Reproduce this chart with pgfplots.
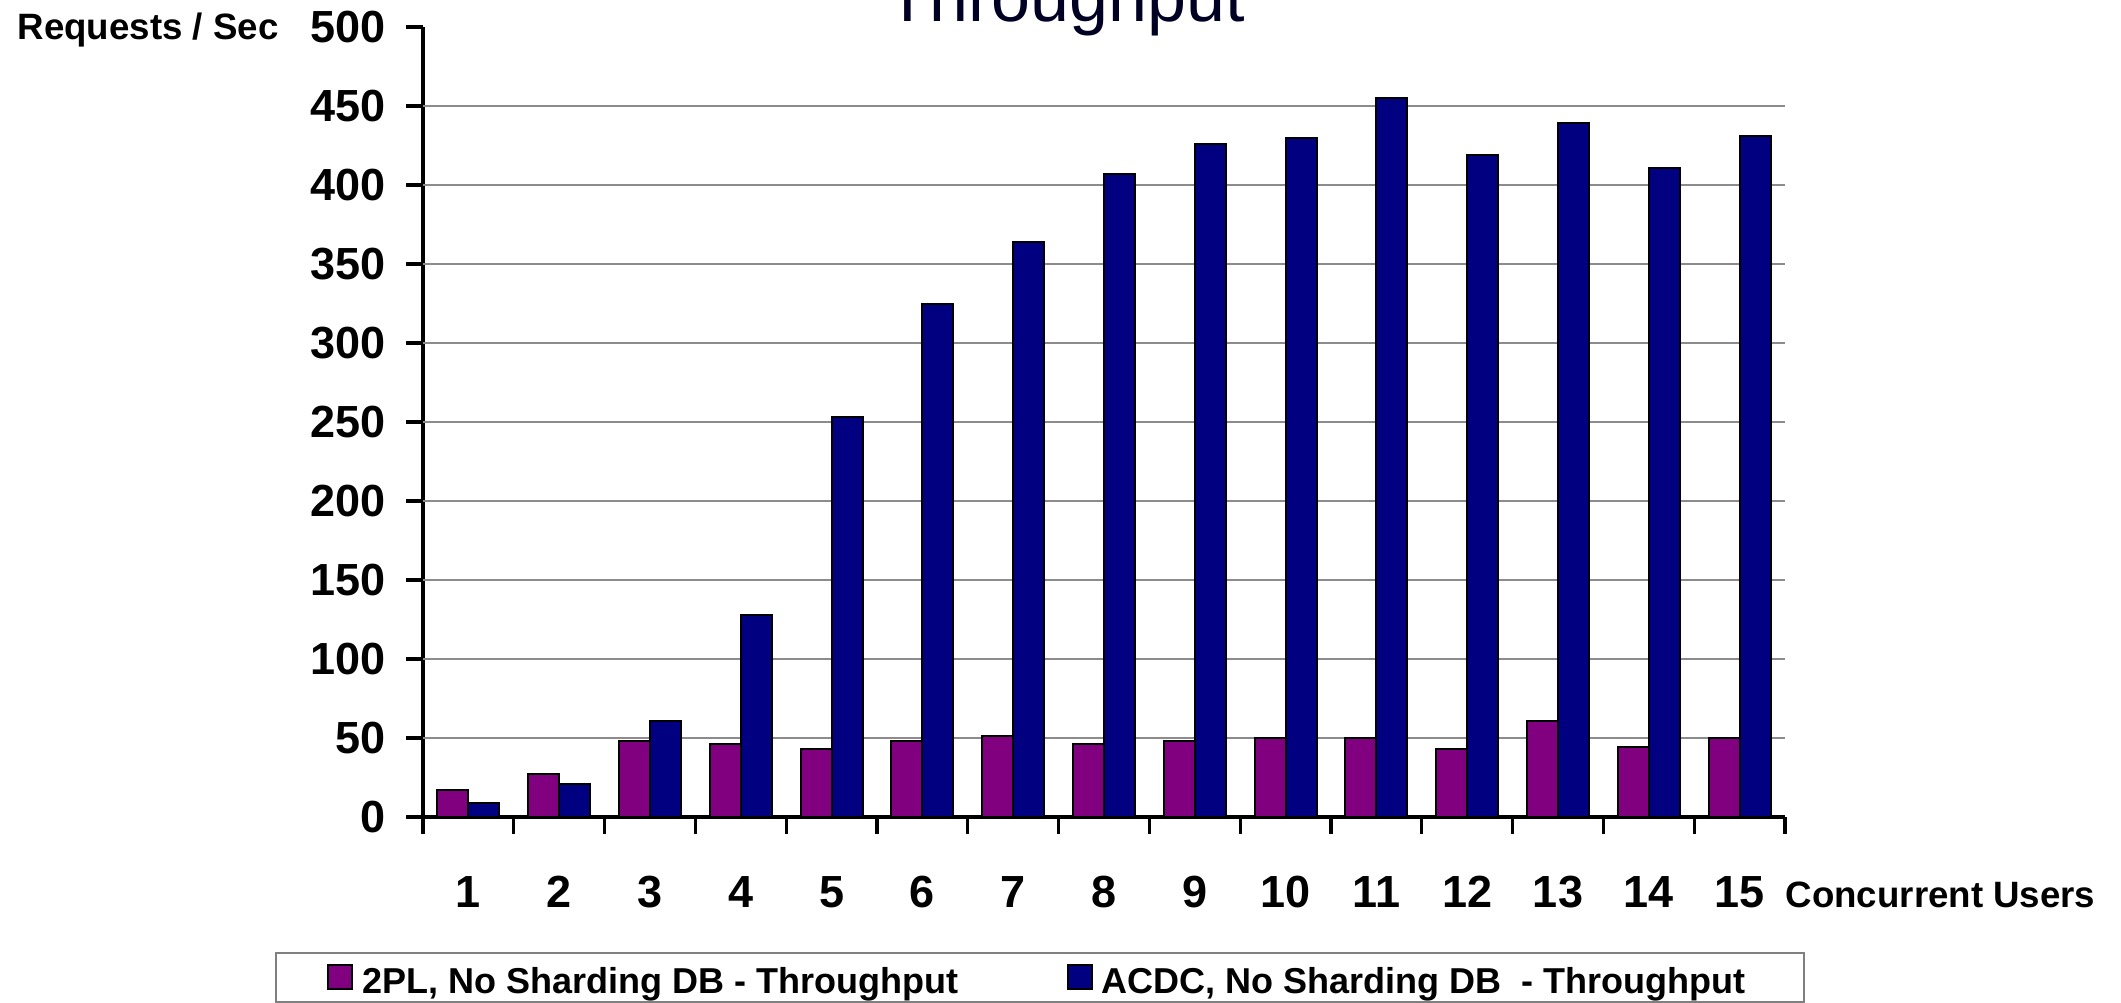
\documentclass[border=0pt]{standalone}
\usepackage{fontspec}
\setmainfont{Liberation Sans}
\usepackage{pgfplots}
\pgfplotsset{compat=1.18}
\definecolor{barpurple}{RGB}{128,0,128}
\definecolor{barnavy}{RGB}{0,0,128}
\definecolor{titlenavy}{RGB}{0,0,36}
\definecolor{gridgray}{RGB}{140,140,140}
\pgfplotsset{sqlegend/.style={legend image code/.code={%
  \path[draw=none,fill=none] (0pt,0pt) -- (8.2pt,0pt);
  \filldraw[#1,draw=black,line width=0.6pt] (0pt,-3.5pt) rectangle (7.2pt,3.7pt);}}}
\begin{document}
\begin{tikzpicture}
\begin{axis}[
  name=ax, at={(0pt,0pt)}, anchor=south west,
  scale only axis, width=408.6pt, height=237pt,
  xmin=0.5, xmax=15.5, ymin=0, ymax=500,
  axis x line=bottom, axis y line=left,
  axis line style={-, line width=1pt, black},
  ybar=0pt, bar width=9.3pt,
  tick align=outside, major tick length=5pt,
  tick style={line width=1pt, black},
  xtick={0.5,1.5,...,15.5}, xticklabels={},
  extra x ticks={1,2,...,15},
  extra x tick labels={1,2,3,4,5,6,7,8,9,10,11,12,13,14,15},
  extra x tick style={major tick length=0pt, xticklabel style={anchor=base, yshift=-27pt}},
  ytick={0,50,...,500},
  extra y ticks={50,100,...,450},
  extra y tick labels={},
  extra y tick style={grid=major, major grid style={gridgray, line width=0.6pt}},
  /pgf/number format/assume math mode=true,
  ticklabel style={font=\fontsize{13.5}{16}\selectfont\bfseries},
  yticklabel style={xshift=-2.8pt},
  clip=false,
  legend columns=2,
  legend cell align=left,
  legend style={at={(-0.1087,-0.1709)}, anchor=north west, draw=gray, line width=0.6pt,
    inner xsep=15.45pt, inner ysep=0pt, font=\fontsize{10.8}{12}\selectfont\bfseries,
    nodes={inner xsep=1.95pt, inner ysep=0pt, text height=12pt, text depth=2.7pt},
    /tikz/every even column/.append style={column sep=30.7pt}},
]
\addplot[fill=barpurple, draw=black, line width=0.6pt, sqlegend] coordinates {
 (1,17) (2,27) (3,48) (4,46) (5,43) (6,48) (7,51) (8,46) (9,48) (10,50) (11,50) (12,43) (13,61) (14,44) (15,50)};
\addlegendentry{2PL, No Sharding DB - Throughput}
\addplot[fill=barnavy, draw=black, line width=0.6pt, sqlegend] coordinates {
 (1,9) (2,21) (3,61) (4,128) (5,253) (6,325) (7,364) (8,407) (9,426) (10,430) (11,455) (12,419) (13,439) (14,411) (15,431)};
\addlegendentry{ACDC, No Sharding DB\ \ - Throughput}
\end{axis}
\node[anchor=base west, inner sep=0pt, font=\fontsize{11}{13}\selectfont\bfseries] at ([shift={(-121.8pt,233.1pt)}]ax.south west) {Requests / Sec};
\node[anchor=base west, inner sep=0pt, font=\fontsize{11}{13}\selectfont\bfseries] at ([shift={(408.6pt,-27pt)}]ax.south west) {Concurrent Users};
\node[anchor=base, inner sep=0pt, font=\fontsize{21}{25}\selectfont, text=titlenavy] at ([shift={(192.9pt,238.5pt)}]ax.south west) {Throughput};
\pgfresetboundingbox
\path[use as bounding box] ([shift={(-126.9pt,-55.5pt)}]ax.south west) rectangle ([shift={(509.4pt,245.1pt)}]ax.south west);
\end{tikzpicture}
\end{document}
